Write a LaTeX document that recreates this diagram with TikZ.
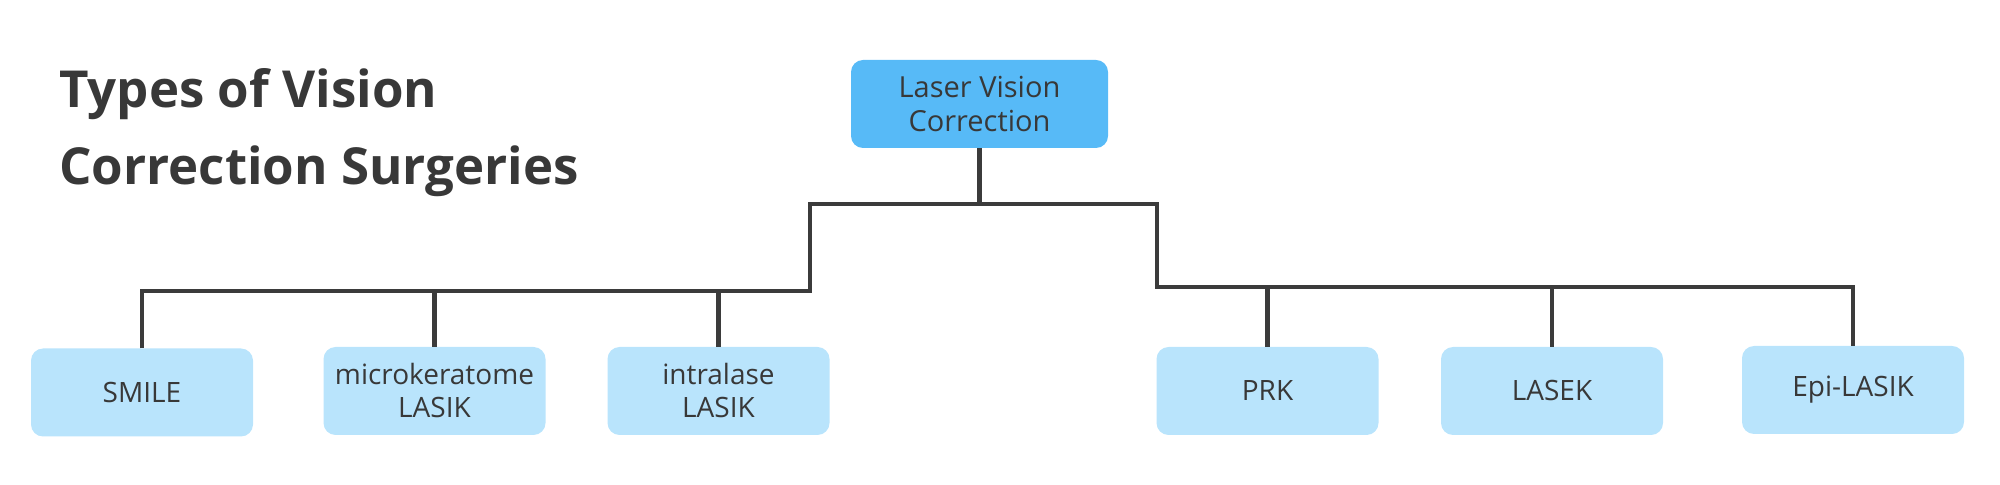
\documentclass[tikz,border=0pt]{standalone}
\usepackage{fontspec}
\setmainfont{Open Sans}
\definecolor{rootblue}{HTML}{57BAF7}
\definecolor{childblue}{HTML}{B9E4FC}
\definecolor{linegray}{HTML}{3B3B3B}
\definecolor{textgray}{HTML}{383838}
\begin{document}
\begin{tikzpicture}[x=0.5pt,y=-0.5pt,
  rootbox/.style={rectangle, rounded corners=6pt, fill=rootblue, minimum width=128.5pt, minimum height=44pt, align=center, text=textgray, font=\fontsize{14.5}{17}\selectfont, outer sep=0pt, inner sep=0pt},
  childbox/.style={rectangle, rounded corners=6pt, fill=childblue, minimum width=111pt, minimum height=44pt, align=center, text=textgray, font=\fontsize{14}{16.5}\selectfont, outer sep=0pt, inner sep=0pt},
  titletext/.style={anchor=base west, inner sep=0pt, text=textgray, font=\fontsize{25.5}{30}\selectfont\bfseries},
  conn/.style={draw=linegray, line width=2.2pt}
]
\useasboundingbox (0,0) rectangle (2000,485);
\node[titletext] (title1) at (59,108) {Types of Vision};
\node[titletext] (title2) at (59,185) {Correction Surgeries};

\node[rootbox] (root) at (979.5,104) {Laser Vision\\Correction};

\node[childbox] (smile) at (142,392.5) {SMILE};
\node[childbox] (micro) at (434.5,391) {microkeratome\\LASIK};
\node[childbox] (intra) at (718.5,391) {intralase\\LASIK};
\node[childbox] (prk) at (1267.5,391) {PRK};
\node[childbox] (lasek) at (1552,391) {LASEK};
\node[childbox] (epi) at (1853,390) {Epi-LASIK};

\coordinate (lj) at (810,204);
\coordinate (rj) at (1157,204);
\coordinate (L) at (810,291);
\coordinate (R) at (1157,287);

\draw[conn] (root.south) -- (root.south |- lj);
\draw[conn] (smile.north) -- (smile.north |- L) -- (L) -- (lj) -- (rj) -- (R) -- (epi.north |- R) -- (epi.north);
\draw[conn] (micro.north) -- (micro.north |- L);
\draw[conn] (intra.north) -- (intra.north |- L);
\draw[conn] (prk.north) -- (prk.north |- R);
\draw[conn] (lasek.north) -- (lasek.north |- R);
\end{tikzpicture}
\end{document}
